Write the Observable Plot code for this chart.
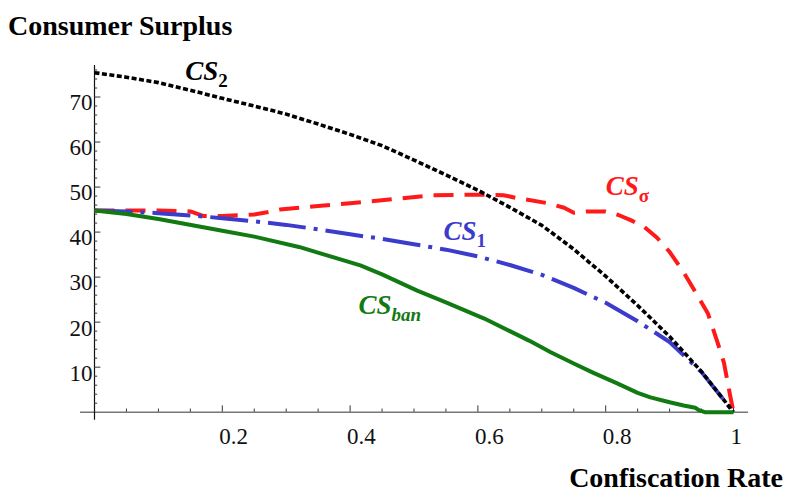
<!DOCTYPE html>
<html>
<head>
<meta charset="utf-8">
<script src="https://cdn.jsdelivr.net/npm/d3@7"></script>
<script src="https://cdn.jsdelivr.net/npm/@observablehq/plot@0.6"></script>
<style>
  html, body { margin: 0; padding: 0; background: #fff; }
  #wrap { position: relative; width: 787px; height: 492px; overflow: hidden; font-family: "Liberation Serif", "Times New Roman", serif; }
  #title { position: absolute; left: 8px; top: 12px; font-size: 28px; font-weight: bold; line-height: 28px; color: #000; white-space: nowrap; }
  #xlabel { position: absolute; right: 4px; top: 464px; font-size: 28px; font-weight: bold; line-height: 28px; color: #000; white-space: nowrap; }
  #chart { position: absolute; left: 0; top: 45px; }
</style>
</head>
<body>
<div id="wrap">
  <div id="title">Consumer Surplus</div>
  <div id="chart"></div>
  <div id="xlabel">Confiscation Rate</div>
</div>
<script>
// ---- data ----
const cs2Rate = [0,0.05,0.1,0.15,0.2,0.25,0.3,0.35,0.4,0.45,0.5,0.55,0.6,0.65,0.7,0.75,0.8,0.85,0.9,0.95,1];
const cs2 = [75.4,74.4,73.2,71.5,69.7,68.0,66.2,64.0,61.7,59.2,56.0,52.7,49.3,45.5,41.5,36.2,30.2,23.7,16.8,9.0,0];

const csSigmaRate = [0,0.1,0.15,0.17,0.2,0.25,0.27,0.29,0.35,0.4,0.48,0.53,0.6,0.64,0.66,0.71,0.735,0.75,0.77,0.8,0.82,0.84,0.86,0.88,0.9,0.92,0.94,0.96,0.975,0.985,0.995,1];
const csSigma = [44.8,44.8,44.6,43.6,43.6,43.9,44.4,45.0,45.8,46.4,47.5,48.2,48.3,48.2,47.6,46.4,45.4,44.3,44.6,44.6,43.8,42.6,41.2,38.8,35.6,31.5,26.8,21.9,15.5,11.0,3.5,0];

const cs1Rate = [0,0.05,0.1,0.15,0.2,0.25,0.3,0.35,0.4,0.45,0.5,0.55,0.6,0.65,0.7,0.75,0.8,0.85,0.9,0.95,1];
const cs1 = [44.8,44.6,44.2,43.7,43.1,42.4,41.6,40.6,39.5,38.5,37.3,36.1,34.6,32.7,30.5,27.6,24.3,20.2,15.6,8.9,0];

const csBanRate = [0,0.05,0.1,0.166,0.2,0.25,0.32,0.36,0.416,0.45,0.505,0.55,0.61,0.65,0.68,0.714,0.75,0.78,0.818,0.85,0.87,0.9,0.922,0.94,0.945,0.955,1];
const csBan = [44.8,44.0,42.9,41.2,40.3,39.0,36.7,35.0,32.6,30.6,27.0,24.4,20.8,18.0,15.9,13.3,10.8,8.8,6.4,4.3,3.3,2.2,1.5,1.0,0.5,0,0];

// curve labels
const labelMain = ["CS","CS","CS","CS"];
const labelSub = ["2","σ","1","ban"];
const labelRate = [0.142,0.80,0.546,0.413];
const labelValue = [73.7,48.15,38.15,21.7];
const labelColor = ["#000000","#ff1a1a","#3b3bcc","#127a12"];
const labelSubItalic = [false,false,false,true];

// axes
const xTicks = [0.2,0.4,0.6,0.8,1];
const xTickLabels = ["0.2","0.4","0.6","0.8","1"];
const xMinorTicks = d3.range(1,21).map(i => i/20).filter(v => !xTicks.some(t => Math.abs(t - v) < 1e-9));
const yTicks = [10,20,30,40,50,60,70];
const yTickLabels = ["10","20","30","40","50","60","70"];
const yMinorTicks = d3.range(1,39).map(i => i*2).filter(v => v % 10 !== 0);
const xDomain = [0,1];
const yDomain = [0,77];
const xAxisExtent = [-0.022, 1.0235];
const yAxisExtent = [-1.8, 77];

// ---- build ----
const toRows = (xs, ys) => xs.map((x,i) => ({x, y: ys[i]}));
const labels = labelMain.map((m,i) => ({main: m, sub: labelSub[i], x: labelRate[i], y: labelValue[i], color: labelColor[i], it: labelSubItalic[i]}));

const font = "Liberation Serif";
const lineBase = {x: "x", y: "y", curve: "linear", strokeLinecap: "butt", strokeLinejoin: "round"};
const marks = [
  // axis lines
  Plot.ruleY([0], {x1: xAxisExtent[0], x2: xAxisExtent[1], stroke: "#777", strokeWidth: 1.4}),
  Plot.ruleX([0], {y1: yAxisExtent[0], y2: yAxisExtent[1], stroke: "#111", strokeWidth: 1.2}),
  // ticks (pointing into the plot)
  Plot.ruleX(xMinorTicks, {x: d => d, y1: 0, y2: 0.7, stroke: "#333", strokeWidth: 1}),
  Plot.ruleX(xTicks, {x: d => d, y1: 0, y2: 1.4, stroke: "#333", strokeWidth: 1}),
  Plot.ruleY(yMinorTicks, {y: d => d, x1: 0, x2: 0.005, stroke: "#333", strokeWidth: 1}),
  Plot.ruleY(yTicks, {y: d => d, x1: 0, x2: 0.01, stroke: "#333", strokeWidth: 1}),
  Plot.axisX(xTicks, {label: null, tickSize: 0, tickPadding: 15, tickFormat: d => xTickLabels[xTicks.indexOf(d)], textAnchor: "start", dx: -3, fontSize: 23, fill: "#111"}),
  Plot.axisY(yTicks, {label: null, tickSize: 0, tickPadding: 2, tickFormat: d => yTickLabels[yTicks.indexOf(d)], dy: 6, fontSize: 23, fill: "#111"}),
  // curves
  Plot.line(toRows(csSigmaRate, csSigma), {...lineBase, stroke: "#ff1a1a", strokeWidth: 4, strokeDasharray: "20,11"}),
  Plot.line(toRows(cs1Rate, cs1), {...lineBase, stroke: "#3b3bcc", strokeWidth: 4, strokeDasharray: "38,8,4,8"}),
  Plot.line(toRows(cs2Rate, cs2), {...lineBase, stroke: "#000", strokeWidth: 3.6, strokeDasharray: "5,2.5"}),
  Plot.line(toRows(csBanRate, csBan), {...lineBase, stroke: "#127a12", strokeWidth: 4})
];
for (const l of labels) {
  marks.push(Plot.text([l], {x: "x", y: "y", text: d => d.main, fill: d => d.color, textAnchor: "start", lineAnchor: "bottom", fontSize: 27, fontWeight: "bold", fontStyle: "italic"}));
  marks.push(Plot.text([l], {x: "x", y: "y", text: d => d.sub, fill: d => d.color, textAnchor: "start", lineAnchor: "bottom", dx: 33, dy: 7, fontSize: 19, fontWeight: "bold", fontStyle: l.it ? "italic" : "normal"}));
}

const chart = Plot.plot({
  width: 787,
  height: 410,
  marginLeft: 94,
  marginRight: 54,
  marginTop: 20,
  marginBottom: 43.3,
  x: {domain: xDomain},
  y: {domain: yDomain},
  color: {type: "identity"},
  style: {fontFamily: font, background: "#fff", color: "#111", overflow: "visible"},
  marks
});
document.getElementById("chart").appendChild(chart);
</script>
</body>
</html>
